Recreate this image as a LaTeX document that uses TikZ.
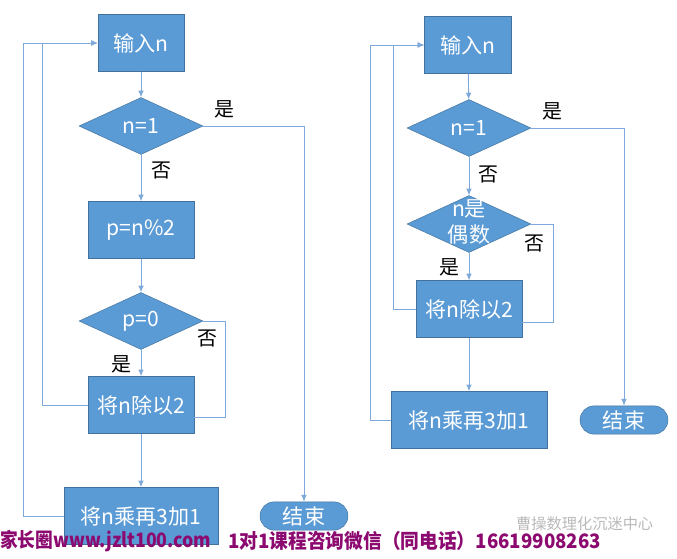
\documentclass[tikz,border=0pt]{standalone}
\usepackage{fontspec}
\setmainfont{Noto Sans CJK SC}
\usetikzlibrary{arrows.meta, shapes.geometric, shapes.misc}

\definecolor{boxblue}{HTML}{5B9BD5}
\definecolor{edgeblue}{HTML}{41719C}
\definecolor{lineblue}{HTML}{7FA9DA}
\definecolor{markpurple}{RGB}{140,10,112}

\begin{document}
\begin{tikzpicture}[
    x=0.03cm, y=-0.03cm,
    >={Latex[length=2mm, width=1.7mm]}, % Set default arrow tip style
    box/.style={draw=edgeblue, fill=boxblue, text=white, minimum height=1.71cm,
        inner sep=0pt, font=\fontsize{18}{21}\selectfont}, % process steps
    decision/.style={diamond, draw=edgeblue, fill=boxblue, text=white, aspect=2.17,
        minimum width=3.72cm, minimum height=1.71cm, inner sep=0pt, align=center,
        font=\fontsize{18}{21}\selectfont}, % tests
    terminal/.style={rounded rectangle, draw=edgeblue, fill=boxblue, text=white,
        minimum width=2.64cm, minimum height=0.85cm, inner sep=0pt,
        font=\fontsize{18}{21}\selectfont}, % end
    lbl/.style={font=\fontsize{17}{20}\selectfont}, % yes / no marks
    flow/.style={lineblue, line width=0.8pt}
]
    \useasboundingbox (0,0) rectangle (677,558);

    % Left chart
    \node[box, minimum width=2.58cm] (in1) at (141,43) {输入n};
    \node[decision] (d1) at (141,126) {n=1};
    \node[box, minimum width=3.18cm] (p2) at (141,230) {p=n\%2};
    \node[decision] (d2) at (141,321) {p=0};
    \node[box, minimum width=3.18cm] (div1) at (141,405) {将n除以2};
    \node[box, minimum width=4.62cm] (mul1) at (141,516) {将n乘再3加1};
    \node[terminal] (end1) at (304,516) {结束};

    \node[lbl] (y1) at (224,109) {是};
    \node[lbl] (n1) at (161,170) {否};
    \node[lbl] (n2) at (207,338) {否};
    \node[lbl] (y2) at (121,364) {是};

    \draw[flow, ->] (in1) -- (d1);
    \draw[flow, ->] (d1) -- (p2);
    \draw[flow, ->] (d1.east) -| (end1.north);
    \draw[flow, ->] (p2) -- (d2);
    \draw[flow, ->] (d2) -- (div1);
    \draw[flow] (d2.east) -- ++(22,0) |- ([yshift=-0.36cm]div1.east);
    \draw[flow, ->] (div1.west) -- ++(-45,0) |- (in1.west);
    \draw[flow, ->] (div1) -- (mul1);
    \draw[flow, ->] (mul1.west) -- ++(-40,0) |- (in1.west);

    % Right chart
    \node[box, minimum width=2.61cm] (in2) at (468,45) {输入n};
    \node[decision] (d3) at (469,128) {n=1};
    \node[decision, text height=0pt, text depth=0pt] (d4) at (469,224)
        {\makebox[0pt]{\raisebox{-5pt}[0pt][0pt]{\begin{tabular}{@{}c@{}}n是\\[1pt]偶数\end{tabular}}}};
    \node[box, minimum width=3.18cm] (div2) at (469,309) {将n除以2};
    \node[box, minimum width=4.68cm] (mul2) at (469,420) {将n乘再3加1};
    \node[terminal] (end2) at (624,420) {结束};

    \node[lbl] (y3) at (552,111) {是};
    \node[lbl] (n3) at (488,174) {否};
    \node[lbl] (n4) at (534,243) {否};
    \node[lbl] (y4) at (449,267) {是};

    \draw[flow, ->] (in2) -- (d3);
    \draw[flow, ->] (d3) -- (d4);
    \draw[flow, ->] (d3.east) -| (end2.north);
    \draw[flow, ->] (d4) -- (div2);
    \draw[flow] (d4.east) -- ++(22,0) |- ([yshift=-0.39cm]div2.east);
    \draw[flow, ->] (div2.west) -- ++(-22,0) |- (in2.west);
    \draw[flow, ->] (div2) -- (mul2);
    \draw[flow, ->] (mul2.west) -- ++(-20,0) |- (in2.west);

    % Bottom marks
    \node[text=gray!55, anchor=west, font=\fontsize{13}{15}\selectfont] (mark3) at (512,524) {曹操数理化沉迷中心};
    \node[text=markpurple, anchor=west, inner sep=0pt, font=\bfseries\fontsize{17}{19}\selectfont] (mark1) at (0,541)
        {\scalebox{0.89}[1]{家长圈www.jzlt100.com}};
    \node[text=markpurple, anchor=west, inner sep=0pt, font=\bfseries\fontsize{17}{19}\selectfont] (mark2) at (228,541)
        {\scalebox{0.94}[1]{1对1课程咨询微信（同电话）16619908263}};

\end{tikzpicture}
\end{document}
